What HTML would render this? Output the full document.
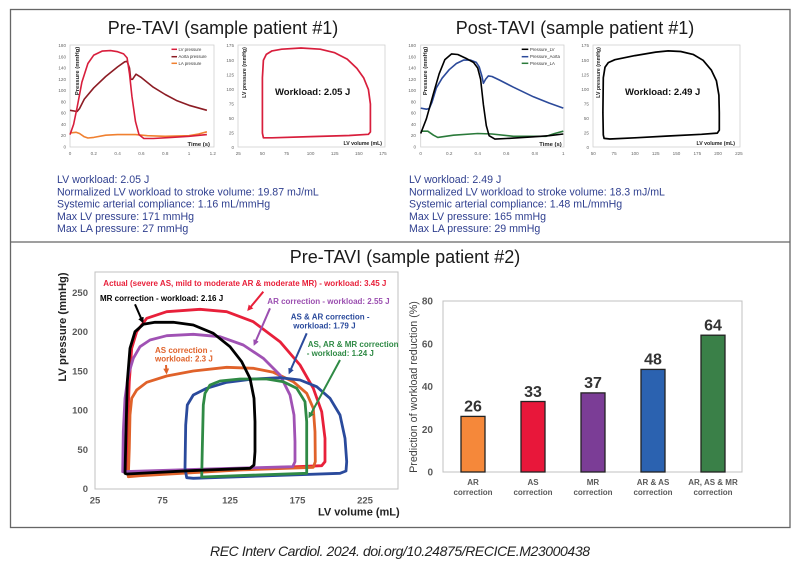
<!DOCTYPE html>
<html>
<head>
<meta charset="utf-8">
<style>
html,body{margin:0;padding:0;background:#fff;}
svg{display:block;}
text{font-family:"Liberation Sans",Arial,sans-serif;}
</style>
</head>
<body>
<svg width="800" height="565" viewBox="0 0 800 565" xmlns="http://www.w3.org/2000/svg">
<defs>
<marker id="aR" markerWidth="6" markerHeight="6" refX="4" refY="3" orient="auto" markerUnits="userSpaceOnUse"><path d="M0,0 L6,3 L0,6 z" fill="#e8203a"/></marker>
<marker id="aK" markerWidth="6" markerHeight="6" refX="4" refY="3" orient="auto" markerUnits="userSpaceOnUse"><path d="M0,0 L6,3 L0,6 z" fill="#000"/></marker>
<marker id="aP" markerWidth="6" markerHeight="6" refX="4" refY="3" orient="auto" markerUnits="userSpaceOnUse"><path d="M0,0 L6,3 L0,6 z" fill="#9b4fb0"/></marker>
<marker id="aB" markerWidth="6" markerHeight="6" refX="4" refY="3" orient="auto" markerUnits="userSpaceOnUse"><path d="M0,0 L6,3 L0,6 z" fill="#2a4a9c"/></marker>
<marker id="aG" markerWidth="6" markerHeight="6" refX="4" refY="3" orient="auto" markerUnits="userSpaceOnUse"><path d="M0,0 L6,3 L0,6 z" fill="#2f8a45"/></marker>
<marker id="aO" markerWidth="6" markerHeight="6" refX="4" refY="3" orient="auto" markerUnits="userSpaceOnUse"><path d="M0,0 L6,3 L0,6 z" fill="#e0622a"/></marker>
</defs>

<!-- outer frame -->
<rect x="10.5" y="9.5" width="779.5" height="518" fill="none" stroke="#666" stroke-width="1.3"/>
<line x1="10" y1="242" x2="790" y2="242" stroke="#666" stroke-width="1.3"/>

<!-- titles -->
<text x="223" y="34" font-size="18" text-anchor="middle" fill="#1a1a1a">Pre-TAVI (sample patient #1)</text>
<text x="575" y="34" font-size="18" text-anchor="middle" fill="#1a1a1a">Post-TAVI (sample patient #1)</text>
<text x="405" y="263" font-size="18" text-anchor="middle" fill="#1a1a1a">Pre-TAVI (sample patient #2)</text>

<!-- ============ TOP-LEFT pressure-time (pre) ============ -->
<rect x="70" y="45" width="144" height="102" fill="none" stroke="#d0d0d0" stroke-width="0.8"/>
<g font-size="4.6" fill="#666" text-anchor="end">
<text x="66" y="148.5">0</text><text x="66" y="137.2">20</text><text x="66" y="125.9">40</text><text x="66" y="114.7">60</text><text x="66" y="103.4">80</text><text x="66" y="92.1">100</text><text x="66" y="80.8">120</text><text x="66" y="69.5">140</text><text x="66" y="58.3">160</text><text x="66" y="47">180</text>
</g>
<g font-size="4.6" fill="#666" text-anchor="middle">
<text x="70" y="155">0</text><text x="93.8" y="155">0.2</text><text x="117.6" y="155">0.4</text><text x="141.4" y="155">0.6</text><text x="165.2" y="155">0.8</text><text x="189" y="155">1</text><text x="212.8" y="155">1.2</text>
</g>
<polyline fill="none" stroke="#8c1c24" stroke-width="1.6" stroke-linejoin="round" points="70,110.3 77.1,111.5 79.5,108.6 84.3,99.1 93.8,87.8 105.7,76.5 117.6,66.9 124.7,61.8 127.1,61.3 129.5,68 130.7,79.3 132.5,79.3 136,74.2 141.4,77.6 153.3,87.2 165.2,94.5 177.1,100.8 189,105.3 206.9,110.3"/>
<polyline fill="none" stroke="#f08030" stroke-width="1.6" stroke-linejoin="round" points="70,132.9 76,132.3 79.5,133.5 84.3,136.8 87.9,138 93.8,137.4 105.7,135.2 117.6,134.6 135.5,134.6 147.4,135.7 165.2,136.3 189,135.7 198.5,134 206.9,131.8"/>
<polyline fill="none" stroke="#d81e3c" stroke-width="1.6" stroke-linejoin="round" points="70,134.6 73.6,124.4 77.1,107.5 81.9,82.1 87.9,63.5 93.8,55.1 102.1,51.1 110.5,50.6 117.6,51.7 123.6,53.9 127.1,57.9 129.5,73.7 131.9,96.2 135.5,121.6 139,134.6 143.8,138.5 153.3,138.5 171.2,137.4 189,136.3 206.9,134.6"/>
<line x1="171.5" y1="49.3" x2="177" y2="49.3" stroke="#d81e3c" stroke-width="1.5"/>
<line x1="171.5" y1="56.7" x2="177" y2="56.7" stroke="#8c1c24" stroke-width="1.5"/>
<line x1="171.5" y1="63.3" x2="177" y2="63.3" stroke="#f08030" stroke-width="1.5"/>
<g font-size="4.3" fill="#333">
<text x="178.5" y="50.8">LV pressure</text><text x="178.5" y="58.2">Aorta pressure</text><text x="178.5" y="64.8">LA pressure</text>
</g>
<text transform="translate(78.8,71) rotate(-90)" font-size="5.8" font-weight="bold" fill="#222" text-anchor="middle">Pressure (mmHg)</text>
<text x="210" y="146" font-size="5.9" font-weight="bold" fill="#222" text-anchor="end">Time (s)</text>

<!-- ============ TOP-LEFT PV loop (pre) ============ -->
<rect x="238" y="45" width="147" height="102" fill="none" stroke="#d0d0d0" stroke-width="0.8"/>
<g font-size="4.6" fill="#666" text-anchor="end">
<text x="234" y="149.2">0</text><text x="234" y="134.6">25</text><text x="234" y="120.1">50</text><text x="234" y="105.5">75</text><text x="234" y="90.9">100</text><text x="234" y="76.3">125</text><text x="234" y="61.8">150</text><text x="234" y="47.2">175</text>
</g>
<g font-size="4.6" fill="#666" text-anchor="middle">
<text x="238.3" y="155">25</text><text x="262.4" y="155">50</text><text x="286.5" y="155">75</text><text x="310.6" y="155">100</text><text x="334.7" y="155">125</text><text x="358.8" y="155">150</text><text x="382.9" y="155">175</text>
</g>
<polygon fill="none" stroke="#d81e3c" stroke-width="1.7" stroke-linejoin="round" points="263.4,137.8 262.4,133.1 262.4,112.7 262.4,77.7 263.4,60.3 266.3,54.4 272,50.9 281.7,49.2 301,48 320.2,49.2 334.7,52.7 347.2,59.1 356.9,68.4 363.6,77.7 368.4,89.4 370.4,104 370.4,124.4 370.4,132 368.4,134.3 349.2,135.5 310.6,136.6 272,137.8"/>
<text x="275" y="95" font-size="9.5" font-weight="bold" fill="#111">Workload: 2.05 J</text>
<text transform="translate(246,72.5) rotate(-90)" font-size="5.2" font-weight="bold" fill="#222" text-anchor="middle">LV pressure (mmHg)</text>
<text x="382" y="145" font-size="5.2" font-weight="bold" fill="#222" text-anchor="end">LV volume (mL)</text>

<!-- ============ TOP-RIGHT pressure-time (post) ============ -->
<rect x="420.7" y="45" width="143.3" height="102" fill="none" stroke="#d0d0d0" stroke-width="0.8"/>
<g font-size="4.6" fill="#666" text-anchor="end">
<text x="416" y="148.5">0</text><text x="416" y="137.2">20</text><text x="416" y="125.9">40</text><text x="416" y="114.7">60</text><text x="416" y="103.4">80</text><text x="416" y="92.1">100</text><text x="416" y="80.8">120</text><text x="416" y="69.5">140</text><text x="416" y="58.3">160</text><text x="416" y="47">180</text>
</g>
<g font-size="4.6" fill="#666" text-anchor="middle">
<text x="420.7" y="155">0</text><text x="449.2" y="155">0.2</text><text x="477.7" y="155">0.4</text><text x="506.3" y="155">0.6</text><text x="534.8" y="155">0.8</text><text x="563.3" y="155">1</text>
</g>
<polyline fill="none" stroke="#2a7a3a" stroke-width="1.6" stroke-linejoin="round" points="420.7,131.2 427.8,131.2 433.5,135.2 437.8,137.4 453.5,135.2 477.7,133.5 492,134 513.4,136.3 546.2,136.3 554.7,133.5 563.3,131.2"/>
<polyline fill="none" stroke="#2c4a9a" stroke-width="1.6" stroke-linejoin="round" points="420.7,108.1 426.4,109.2 429.3,108.6 432.1,101.9 436.4,87.8 442.1,78.2 449.2,69.7 456.4,63.5 463.5,60.1 470.6,60.1 476.3,62.4 479.2,66.9 482,76.5 483.4,83.3 485.6,79.3 488.4,75.9 492,76.5 499.1,79.9 513.4,87.2 533.4,96.8 549,103 563.3,108.1"/>
<polyline fill="none" stroke="#000" stroke-width="1.6" stroke-linejoin="round" points="420.7,133.5 426.4,118.8 433.5,93.4 439.2,73.7 444.9,59.6 451.6,53.9 457.8,54.5 466.3,58.5 473.5,62.4 477.7,68 480.6,79.3 483.4,104.7 486.3,125.6 489.1,135.7 494.9,139.1 506.3,138.5 533.4,136.8 549,135.7 563.3,134"/>
<line x1="521.7" y1="49.3" x2="528.3" y2="49.3" stroke="#000" stroke-width="1.5"/>
<line x1="521.7" y1="56.7" x2="528.3" y2="56.7" stroke="#2c4a9a" stroke-width="1.5"/>
<line x1="521.7" y1="63.3" x2="528.3" y2="63.3" stroke="#2a7a3a" stroke-width="1.5"/>
<g font-size="4.3" fill="#333">
<text x="530" y="50.8">Pressure_LV</text><text x="530" y="58.2">Pressure_Aorta</text><text x="530" y="64.8">Pressure_LA</text>
</g>
<text transform="translate(427,71) rotate(-90)" font-size="5.8" font-weight="bold" fill="#222" text-anchor="middle">Pressure (mmHg)</text>
<text x="561.7" y="146" font-size="5.9" font-weight="bold" fill="#222" text-anchor="end">Time (s)</text>

<!-- ============ TOP-RIGHT PV loop (post) ============ -->
<rect x="593" y="45" width="147" height="102" fill="none" stroke="#d0d0d0" stroke-width="0.8"/>
<g font-size="4.6" fill="#666" text-anchor="end">
<text x="589" y="149.2">0</text><text x="589" y="134.6">25</text><text x="589" y="120.1">50</text><text x="589" y="105.5">75</text><text x="589" y="90.9">100</text><text x="589" y="76.3">125</text><text x="589" y="61.8">150</text><text x="589" y="47.2">175</text>
</g>
<g font-size="4.6" fill="#666" text-anchor="middle">
<text x="593.3" y="155">50</text><text x="614.1" y="155">75</text><text x="634.9" y="155">100</text><text x="655.7" y="155">125</text><text x="676.5" y="155">150</text><text x="697.3" y="155">175</text><text x="718.1" y="155">200</text><text x="738.9" y="155">225</text>
</g>
<polygon fill="none" stroke="#000" stroke-width="1.7" stroke-linejoin="round" points="604.1,138.4 603.3,134.9 602.9,112.7 603.3,77.7 605,67.2 608.3,62.6 614.9,59.7 634.9,55.6 655.7,52.1 668.2,50.9 680.7,51.5 693.1,54.4 703.1,60.3 711.4,70.2 716.4,80.7 718.9,95.2 719.3,112.7 719.3,130.2 717.3,133.1 701.5,134.3 668.2,136 634.9,137.8 609.9,139"/>
<text x="625" y="95" font-size="9.5" font-weight="bold" fill="#111">Workload: 2.49 J</text>
<text transform="translate(600,72.5) rotate(-90)" font-size="5.2" font-weight="bold" fill="#222" text-anchor="middle">LV pressure (mmHg)</text>
<text x="735" y="145" font-size="5.2" font-weight="bold" fill="#222" text-anchor="end">LV volume (mL)</text>

<!-- ============ text blocks ============ -->
<g font-size="10.6" fill="#2f3f8f">
<text x="57" y="182.8">LV workload: 2.05 J</text>
<text x="57" y="195.3">Normalized LV workload to stroke volume: 19.87 mJ/mL</text>
<text x="57" y="207.5">Systemic arterial compliance: 1.16 mL/mmHg</text>
<text x="57" y="219.8">Max LV pressure: 171 mmHg</text>
<text x="57" y="232">Max LA pressure: 27 mmHg</text>
<text x="409" y="182.8">LV workload: 2.49 J</text>
<text x="409" y="195.3">Normalized LV workload to stroke volume: 18.3 mJ/mL</text>
<text x="409" y="207.5">Systemic arterial compliance: 1.48 mL/mmHg</text>
<text x="409" y="219.8">Max LV pressure: 165 mmHg</text>
<text x="409" y="232">Max LA pressure: 29 mmHg</text>
</g>

<!-- ============ BOTTOM-LEFT PV loops ============ -->
<rect x="95" y="272" width="303" height="217" fill="none" stroke="#c0c0c0" stroke-width="1"/>
<g font-size="9.5" font-weight="bold" fill="#595959" text-anchor="end">
<text x="88" y="492">0</text><text x="88" y="452.8">50</text><text x="88" y="413.6">100</text><text x="88" y="374.4">150</text><text x="88" y="335.2">200</text><text x="88" y="296">250</text>
</g>
<g font-size="9.5" font-weight="bold" fill="#595959" text-anchor="middle">
<text x="95" y="503.5">25</text><text x="162.5" y="503.5">75</text><text x="230" y="503.5">125</text><text x="297.5" y="503.5">175</text><text x="365" y="503.5">225</text>
</g>
<text x="318" y="515.5" font-size="11" font-weight="bold" fill="#222">LV volume (mL)</text>
<text transform="translate(66,327) rotate(-90)" font-size="11.2" font-weight="bold" fill="#222" text-anchor="middle">LV pressure (mmHg)</text>

<g fill="none" stroke-width="2.8" stroke-linejoin="round">
<polygon stroke="#e8203a" points="126,473.3 127.3,431.7 129.3,381.7 131.7,348.3 136.7,331.7 146.7,318.3 166.7,311.7 200,309.3 226.7,311.7 253.3,321.7 280,341.7 300,365 313.3,388.3 321.7,411.7 325,438.3 325,461.7 321.7,465.7 240,469 140,473.3"/>
<polygon stroke="#e0622a" points="128.3,476.7 129.3,448.3 130,415 131.7,398.3 136.7,390 146.7,382.3 166.7,376 193.3,371 226.7,367.3 253.3,368.3 273.3,372.3 293.3,381.7 306.7,393.3 313.3,408.3 315,431.7 315.3,461.7 313.3,467.3 240,470 140,475.7"/>
<polygon stroke="#a052b4" points="122.7,471.7 123.3,431.7 125,398.3 128.3,375 133.3,358.3 140,346.7 150,340 166.7,335.7 193.3,334.3 220,336.7 243.3,345 263.3,358.3 280,375 290,395 294,415 295,441.7 295,461.7 292.7,466.7 206.7,469"/>
<polygon stroke="#2a4a9c" points="186.7,477.7 185,468.3 185.7,425 187.3,405 193.3,395 206.7,388.3 226.7,382.3 253.3,379 280,377.7 300,380 316.7,386.7 330,398.3 340,415 345,438.3 346.7,461.7 346,471 340,473.3 240,476.7 193.3,478.3"/>
<polygon stroke="#2f8a45" points="201.7,477 202.3,448.3 203.3,405 205,393.3 210,385 220,381 240,379 266.7,379 283.3,381.7 296.7,388.3 305,401.7 306.7,421.7 306.7,451.7 306.7,473.3 256.7,475"/>
<polygon stroke="#000" points="125,473.3 126,431.7 127.3,381.7 130,348.3 135,331.7 143.3,324.3 155,322.3 173.3,322.3 193.3,325 213.3,333.3 230,346.7 241.7,361.7 250,378.3 254,398.3 255,421.7 255,451.7 254,465 250,468.3 190,470.7 126.7,474"/>
</g>

<!-- arrows -->
<g stroke-width="2" fill="none">
<line x1="263.3" y1="291.7" x2="248.5" y2="309.5" stroke="#e8203a" marker-end="url(#aR)"/>
<line x1="135" y1="304.3" x2="142.5" y2="321.5" stroke="#000" marker-end="url(#aK)"/>
<line x1="270" y1="308.3" x2="254.5" y2="344" stroke="#9b4fb0" marker-end="url(#aP)"/>
<line x1="306.7" y1="333.3" x2="289.5" y2="372.5" stroke="#2a4a9c" marker-end="url(#aB)"/>
<line x1="340" y1="360" x2="309.5" y2="416.5" stroke="#2f8a45" marker-end="url(#aG)"/>
<line x1="166" y1="365" x2="166.5" y2="372.5" stroke="#e0622a" marker-end="url(#aO)"/>
</g>

<!-- annotations -->
<g font-size="8" font-weight="bold">
<text x="103.3" y="286" fill="#e8203a">Actual (severe AS, mild to moderate AR &amp; moderate MR) - workload: 3.45 J</text>
<text x="100" y="301" fill="#000">MR correction - workload: 2.16 J</text>
<text x="267.3" y="304" fill="#9b4fb0">AR correction - workload: 2.55 J</text>
<text x="290.7" y="319.5" fill="#2a4a9c">AS &amp; AR correction -</text>
<text x="293.3" y="328.5" fill="#2a4a9c">workload: 1.79 J</text>
<text x="307.7" y="347" fill="#2f8a45">AS, AR &amp; MR correction</text>
<text x="306.7" y="356" fill="#2f8a45"> - workload: 1.24 J</text>
<text x="155" y="353" fill="#e0622a">AS correction -</text>
<text x="155" y="361.5" fill="#e0622a">workload: 2.3 J</text>
</g>

<!-- ============ BOTTOM-RIGHT bar chart ============ -->
<rect x="443" y="301" width="299" height="171" fill="none" stroke="#c0c0c0" stroke-width="1"/>
<g font-size="10" font-weight="bold" fill="#595959" text-anchor="end">
<text x="433" y="475.5">0</text><text x="433" y="432.8">20</text><text x="433" y="390">40</text><text x="433" y="347.3">60</text><text x="433" y="304.5">80</text>
</g>
<text transform="translate(417,387) rotate(-90)" font-size="10.7" fill="#404040" text-anchor="middle">Prediction of workload reduction (%)</text>
<g stroke="#222" stroke-width="1.3">
<rect x="461" y="416.4" width="24" height="55.6" fill="#f5883a"/>
<rect x="521" y="401.5" width="24" height="70.5" fill="#e8173a"/>
<rect x="581" y="392.9" width="24" height="79.1" fill="#7b3d96"/>
<rect x="641" y="369.4" width="24" height="102.6" fill="#2b62b0"/>
<rect x="701" y="335.2" width="24" height="136.8" fill="#3a8048"/>
</g>
<g font-size="16" font-weight="bold" fill="#333" text-anchor="middle">
<text x="473" y="411.7">26</text><text x="533" y="396.8">33</text><text x="593" y="388.2">37</text><text x="653" y="364.7">48</text><text x="713" y="330.5">64</text>
</g>
<g font-size="8" font-weight="bold" fill="#595959" text-anchor="middle">
<text x="473" y="485">AR</text><text x="473" y="495">correction</text>
<text x="533" y="485">AS</text><text x="533" y="495">correction</text>
<text x="593" y="485">MR</text><text x="593" y="495">correction</text>
<text x="653" y="485">AR &amp; AS</text><text x="653" y="495">correction</text>
<text x="713" y="485">AR, AS &amp; MR</text><text x="713" y="495">correction</text>
</g>

<!-- caption -->
<text x="400" y="556" font-family="'Liberation Serif','Times New Roman',serif" font-style="italic" font-size="14" fill="#222" text-anchor="middle" textLength="380" lengthAdjust="spacing">REC Interv Cardiol. 2024. doi.org/10.24875/RECICE.M23000438</text>
</svg>
</body>
</html>
